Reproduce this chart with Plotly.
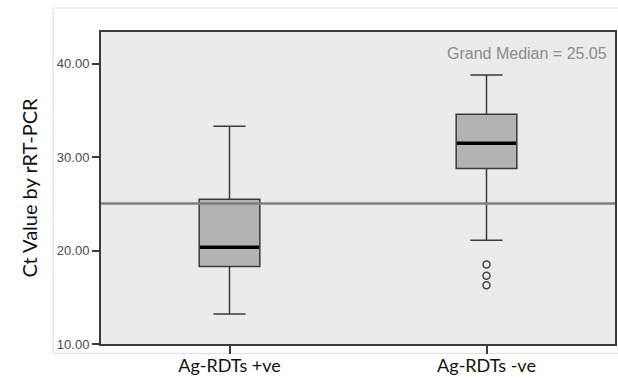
import plotly.graph_objects as go

categories = ["Ag-RDTs +ve", "Ag-RDTs -ve"]
q1 = [18.3, 28.8]
median = [20.35, 31.5]
q3 = [25.5, 34.6]
lower_whisker = [13.2, 21.1]
upper_whisker = [33.3, 38.8]
outlier_x = ["Ag-RDTs -ve", "Ag-RDTs -ve", "Ag-RDTs -ve"]
outlier_y = [18.5, 17.3, 16.3]
grand_median = 25.05
y_ticks = [10, 20, 30, 40]
y_tick_labels = ["10.00", "20.00", "30.00", "40.00"]

fig = go.Figure()
fig.add_trace(go.Box(
    x=categories, q1=q1, median=median, q3=q3,
    lowerfence=lower_whisker, upperfence=upper_whisker,
    fillcolor="#b3b3b3", line=dict(color="#3a3a3a", width=1.5),
    width=0.236, whiskerwidth=0.53, boxpoints=False, showlegend=False,
    hoverinfo="skip",
))
# thick black median bar
fig.add_trace(go.Box(
    x=categories, q1=median, median=median, q3=median,
    lowerfence=median, upperfence=median,
    fillcolor="rgba(0,0,0,0)", line=dict(color="#000000", width=3.5),
    width=0.23, whiskerwidth=0, boxpoints=False, showlegend=False,
    hoverinfo="skip",
))
fig.add_trace(go.Scatter(
    x=outlier_x, y=outlier_y, mode="markers",
    marker=dict(symbol="circle-open", size=7, color="#444444", line=dict(width=1.5)),
    showlegend=False, hoverinfo="skip",
))

fig.add_hline(y=grand_median, line=dict(color="#7f7f7f", width=2.5), layer="above")
fig.add_annotation(
    xref="paper", yref="paper", x=0.988, y=0.93, xanchor="right", yanchor="middle",
    text=f"Grand Median = {grand_median:.2f}", showarrow=False,
    font=dict(family="Liberation Sans, Arial", size=16, color="#8c8c8c"),
)
# faint outer chart frame
fig.add_shape(type="rect", xref="paper", yref="paper", x0=-0.093, x1=1.01, y0=-0.03, y1=1.077,
              line=dict(color="#dedede", width=1), fillcolor="rgba(0,0,0,0)", layer="below")

fig.update_layout(
    width=618, height=379,
    margin=dict(l=101, r=1, t=32, b=35),
    paper_bgcolor="white", plot_bgcolor="#ebebeb",
    font=dict(family="Liberation Sans, Arial", color="#333333"),
    showlegend=False,
)
fig.update_xaxes(
    type="category", range=[-0.5, 1.5],
    showline=True, mirror=True, linecolor="#3a3a3a", linewidth=2,
    ticks="outside", ticklen=8, tickcolor="#3a3a3a", tickwidth=1.5,
    ticklabelstandoff=-4,
    tickfont=dict(family="Lato, Noto Sans", size=18, color="#111111"),
    showgrid=False, zeroline=False,
)
fig.update_yaxes(
    range=[10, 43.4], tickvals=y_ticks, ticktext=y_tick_labels,
    showline=True, mirror=True, linecolor="#3a3a3a", linewidth=2,
    ticks="outside", ticklen=7, tickcolor="#3a3a3a", tickwidth=1.5,
    tickfont=dict(family="Liberation Sans, Arial", size=13, color="#4a4a4a"),
    showgrid=False, zeroline=False,
    title=dict(text="Ct Value by rRT-PCR", standoff=14,
               font=dict(family="Lato, Noto Sans", size=20, color="#111111")),
)

fig.write_html("out.html", config={"displayModeBar": False},
               post_script="document.body.style.margin='0';document.body.style.overflow='hidden';")
